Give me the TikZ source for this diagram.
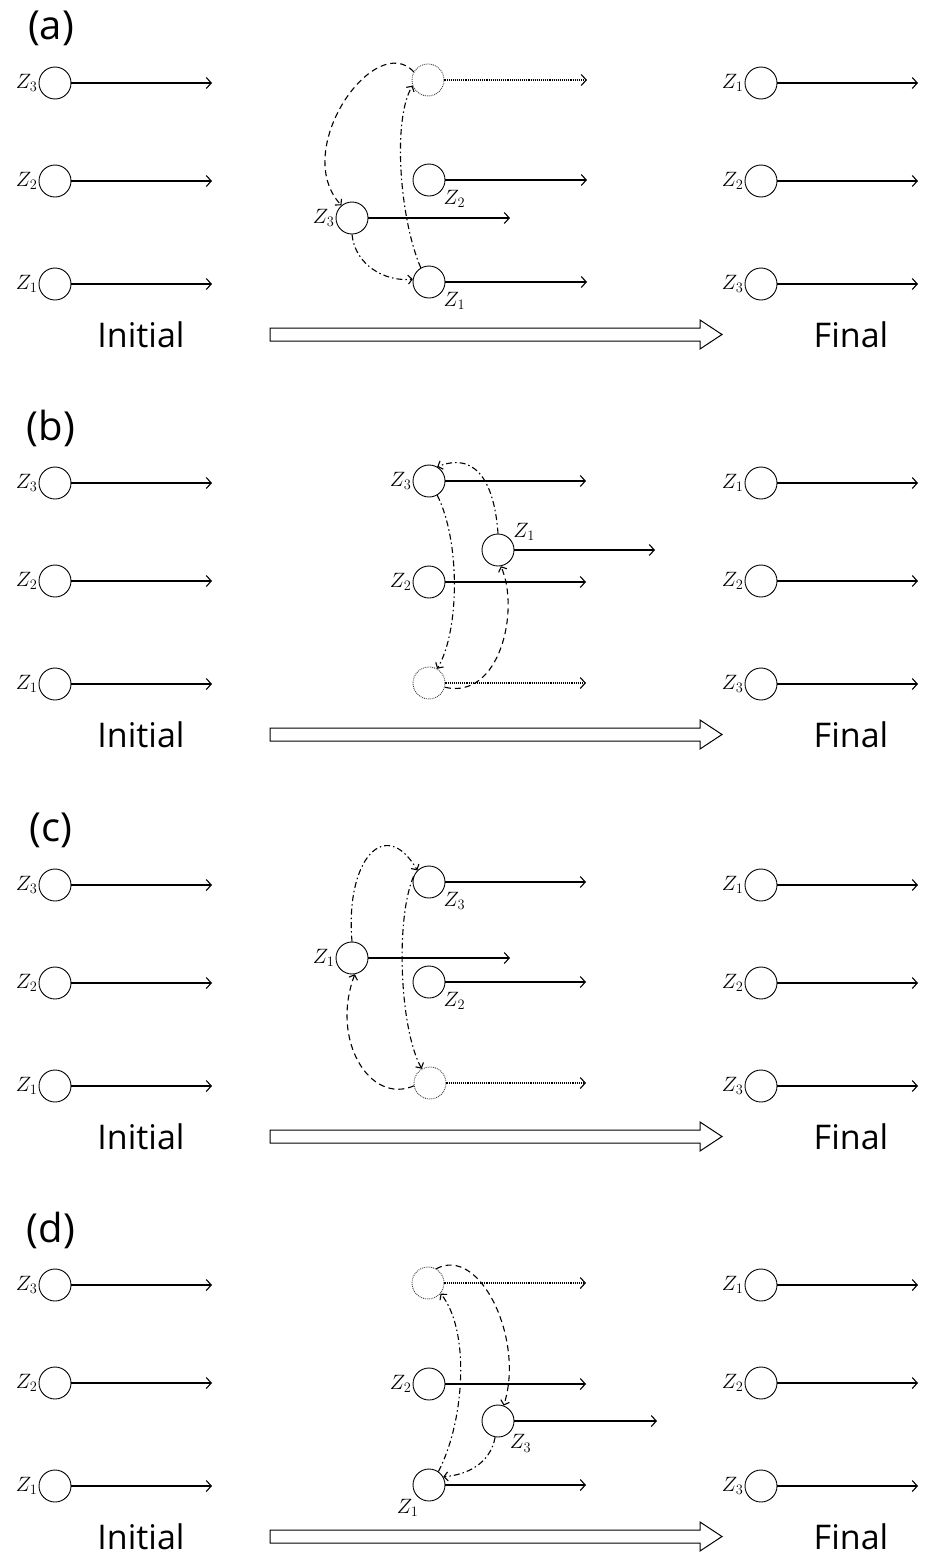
\documentclass[tikz,border=0pt]{standalone}
\usepackage{fontspec}
\setmainfont{Open Sans}
\usepackage{tikz}
\usetikzlibrary{arrows.meta}

\begin{document}
\begin{tikzpicture}[x=1pt,y=-1pt,
  qb/.style={circle,draw,line width=0.9pt,minimum size=32pt,inner sep=0pt},
  ghost/.style={qb,densely dotted,draw=black!75},
  zlab/.style={font=\fontsize{20}{22}\selectfont,inner sep=1pt},
  zmid/.style={font=\fontsize{21}{24}\selectfont,inner sep=1pt},
  wire/.style={line width=1.1pt,-{Straight Barb[length=5pt,width=11pt]}},
  gwire/.style={wire,densely dotted},
  swapd/.style={line width=1.1pt,dash pattern=on 6pt off 4pt,-{Straight Barb[length=4pt,width=9pt]}},
  swapdd/.style={line width=1.1pt,dash pattern=on 6pt off 3pt on 1.5pt off 3pt,-{Straight Barb[length=4pt,width=9pt]}},
  big/.style={font=\fontsize{34}{40}\selectfont,inner sep=0pt},
  ptitle/.style={font=\fontsize{40}{46}\selectfont,inner sep=0pt}]
  \useasboundingbox (0,0) rectangle (924,1558);

  % initial and final registers, same in every panel
  \foreach \p/\off in {a/0,b/400,c/802,d/1202} {
    \begin{scope}[shift={(0,\off)}]
      \node[ptitle] (\p lbl) at (51,28) {(\p)};
      \node[qb,label={[zlab]left:$Z_3$}] (\p i3) at (55,83) {};
      \node[qb,label={[zlab]left:$Z_2$}] (\p i2) at (55,181) {};
      \node[qb,label={[zlab]left:$Z_1$}] (\p i1) at (55,284) {};
      \draw[wire] (\p i3) -- ++(157,0) coordinate (\p i3e);
      \draw[wire] (\p i2) -- ++(157,0) coordinate (\p i2e);
      \draw[wire] (\p i1) -- ++(157,0) coordinate (\p i1e);

      \node[qb,label={[zlab]left:$Z_1$}] (\p f1) at (761,83) {};
      \node[qb,label={[zlab]left:$Z_2$}] (\p f2) at (761,181) {};
      \node[qb,label={[zlab]left:$Z_3$}] (\p f3) at (761,284) {};
      \draw[wire] (\p f1) -- ++(157,0) coordinate (\p f1e);
      \draw[wire] (\p f2) -- ++(157,0) coordinate (\p f2e);
      \draw[wire] (\p f3) -- ++(157,0) coordinate (\p f3e);

      \node[big] (\p init) at (141,335) {Initial};
      \node[big] (\p fin) at (851,335) {Final};
      \draw[line width=1pt] (270,328) -- (700,328) -- (700,320) -- (722,334.5)
        -- (700,349) -- (700,341) -- (270,341) -- cycle;
    \end{scope}
  }

  % (a)
  \node[ghost] (aghost) at (428,80) {};
  \node[qb,label={[zmid]-35:$Z_2$}] (am2) at (429,180) {};
  \node[qb,label={[zmid]left:$Z_3$}] (am3) at (352,218) {};
  \node[qb,label={[zmid]-35:$Z_1$}] (am1) at (429,282) {};
  \draw[gwire] (aghost) -- ++(159,0) coordinate (aghoste);
  \draw[wire] (am2) -- ++(158,0) coordinate (am2e);
  \draw[wire] (am3) -- ++(158,0) coordinate (am3e);
  \draw[wire] (am1) -- ++(158,0) coordinate (am1e);
  \draw[swapd] (aghost.150) .. controls (375,30) and (290,150) .. (am3.130);
  \draw[swapdd] (am3.-90) .. controls (355,265) and (385,282) .. (am1.170);
  \draw[swapdd] (am1.120) .. controls (400,220) and (392,120) .. (aghost.-160);

  % (b)
  \node[qb,label={[zmid]left:$Z_3$}] (bm3) at (429,481) {};
  \node[qb,label={[zmid]30:$Z_1$}] (bm1) at (498,550) {};
  \node[qb,label={[zmid]left:$Z_2$}] (bm2) at (429,582) {};
  \node[ghost] (bghost) at (429,683) {};
  \draw[wire] (bm3) -- ++(157,0) coordinate (bm3e);
  \draw[wire] (bm1) -- ++(157,0) coordinate (bm1e);
  \draw[wire] (bm2) -- ++(157,0) coordinate (bm2e);
  \draw[gwire] (bghost) -- ++(157,0) coordinate (bghoste);
  \draw[swapdd] (bm1.north) .. controls (495,490) and (480,450) .. (bm3.60);
  \draw[swapdd] (bm3.-60) .. controls (460,540) and (460,630) .. (bghost.60);
  \draw[swapd] (bghost.-15) .. controls (500,700) and (520,610) .. (bm1.-80);

  % (c)
  \node[qb,label={[zmid]-35:$Z_3$}] (cm3) at (429,882) {};
  \node[qb,label={[zmid]left:$Z_1$}] (cm1) at (352,958) {};
  \node[qb,label={[zmid]-35:$Z_2$}] (cm2) at (429,982) {};
  \node[ghost] (cghost) at (430,1083) {};
  \draw[wire] (cm3) -- ++(157,0) coordinate (cm3e);
  \draw[wire] (cm1) -- ++(158,0) coordinate (cm1e);
  \draw[wire] (cm2) -- ++(157,0) coordinate (cm2e);
  \draw[gwire] (cghost) -- ++(156,0) coordinate (cghoste);
  \draw[swapdd] (cm1.north) .. controls (345,860) and (385,815) .. (cm3.135);
  \draw[swapdd] (cm3.160) .. controls (395,920) and (400,1030) .. (cghost.120);
  \draw[swapd] (cghost.190) .. controls (370,1105) and (330,1040) .. (cm1.-80);

  % (d)
  \node[ghost] (dghost) at (428,1283) {};
  \node[qb,label={[zmid]left:$Z_2$}] (dm2) at (429,1384) {};
  \node[qb,label={[zmid]-50:$Z_3$}] (dm3) at (498,1421) {};
  \node[qb,label={[zmid]-125:$Z_1$}] (dm1) at (429,1485) {};
  \draw[gwire] (dghost) -- ++(158,0) coordinate (dghoste);
  \draw[wire] (dm2) -- ++(157,0) coordinate (dm2e);
  \draw[wire] (dm3) -- ++(159,0) coordinate (dm3e);
  \draw[wire] (dm1) -- ++(157,0) coordinate (dm1e);
  \draw[swapd] (dghost.60) .. controls (480,1245) and (525,1340) .. (dm3.70);
  \draw[swapdd] (dm3.-100) .. controls (490,1465) and (465,1475) .. (dm1.30);
  \draw[swapdd] (dm1.55) .. controls (465,1420) and (470,1330) .. (dghost.-40);
\end{tikzpicture}
\end{document}
